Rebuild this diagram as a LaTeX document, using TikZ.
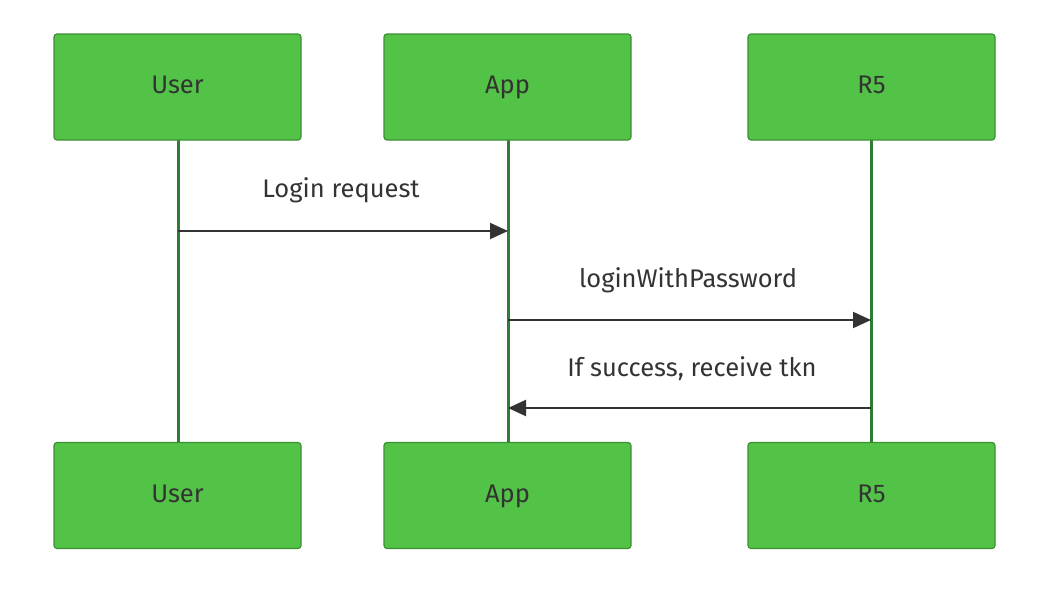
\documentclass[tikz,border=0pt]{standalone}
\usepackage{fontspec}
\setmainfont{Fira Sans}
\usetikzlibrary{arrows.meta}
\definecolor{boxfill}{HTML}{52C346}
\definecolor{boxdraw}{HTML}{3C8F33}
\definecolor{life}{HTML}{2E7D32}
\definecolor{txt}{HTML}{333333}
\tikzset{
 actor/.style={draw=boxdraw,line width=1.2pt,fill=boxfill,rounded corners=3pt,minimum width=247pt,minimum height=106pt,inner sep=0pt,font=\fontsize{25.5}{30}\selectfont,text=txt,text height=18pt,text depth=5pt},
 lifeline/.style={draw=life,line width=3pt},
 msg/.style={draw=txt,line width=2pt,-{Triangle[length=18pt,width=16pt]}},
 lbl/.style={font=\fontsize{25.5}{30}\selectfont,text=txt}
}
\begin{document}
\begin{tikzpicture}[x=1pt,y=-1pt]
\useasboundingbox (0,0) rectangle (1058,595);
\draw[lifeline] (178,140) -- (178,442);
\draw[lifeline] (508,140) -- (508,442);
\draw[lifeline] (871,140) -- (871,442);
\node[actor] (u1) at (177.5,87) {User};
\node[actor] (a1) at (507.5,87) {App};
\node[actor] (r1) at (871.5,87) {R5};
\node[actor] (u2) at (177.5,495.5) {User};
\node[actor] (a2) at (507.5,495.5) {App};
\node[actor] (r2) at (871.5,495.5) {R5};
\coordinate (p1) at (178,231); \coordinate (q1) at (508,231);
\coordinate (p2) at (508,320); \coordinate (q2) at (871,320);
\coordinate (p3) at (871,408); \coordinate (q3) at (508,408);
\draw[msg] (p1) -- (q1);
\draw[msg] (p2) -- (q2);
\draw[msg] (p3) -- (q3);
\node[lbl] (l1) at (341,190) {Login request};
\node[lbl] (l2) at (688,280) {loginWithPassword};
\node[lbl] (l3) at (692,369) {If success, receive tkn};
\end{tikzpicture}
\end{document}
